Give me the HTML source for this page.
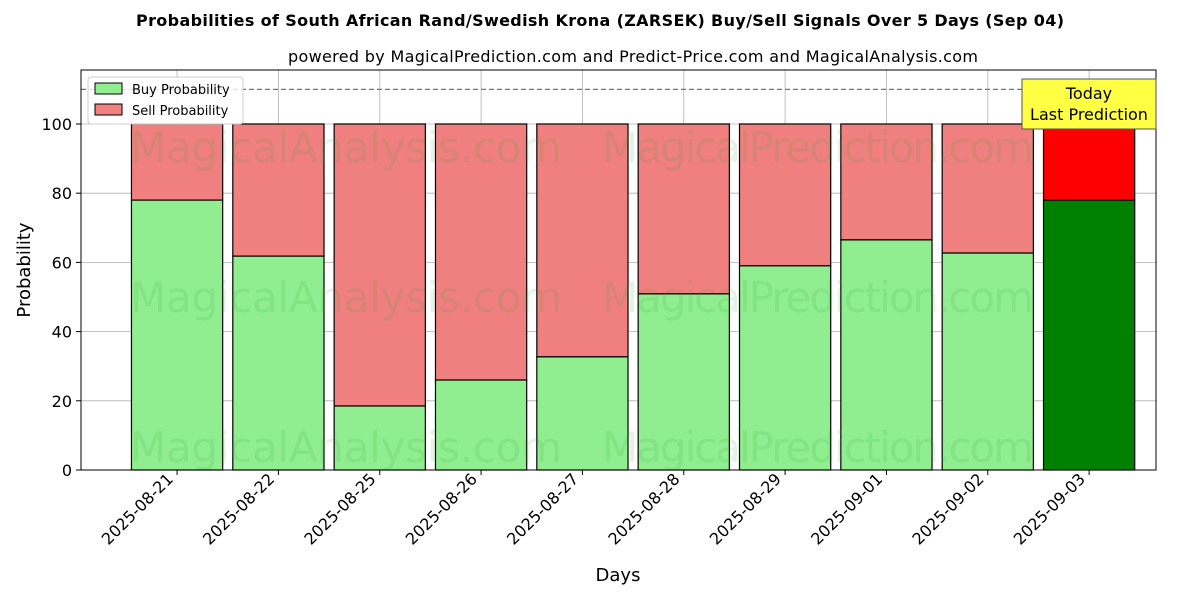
<!DOCTYPE html>
<html><head><meta charset="utf-8"><style>
body{margin:0;background:#fff;font-family:"Liberation Sans","DejaVu Sans",sans-serif;}
svg text{font-family:"DejaVu Sans","Liberation Sans",sans-serif;}
</style></head><body>
<svg id="chart" width="1200" height="600" xmlns="http://www.w3.org/2000/svg">
<text x="600" y="26" text-anchor="middle" font-size="16" font-weight="bold" textLength="928">Probabilities of South African Rand/Swedish Krona (ZARSEK) Buy/Sell Signals Over 5 Days (Sep 04)</text>
<text x="633" y="62" text-anchor="middle" font-size="16" textLength="690">powered by MagicalPrediction.com and Predict-Price.com and MagicalAnalysis.com</text>
<g id="grid"></g>
<g id="bars"></g>
<g id="watermarks" fill="#2ca02c" fill-opacity="0.13" font-size="42">
<text x="130" y="162" textLength="432">MagicalAnalysis.com</text><text x="602" y="162" textLength="432">MagicalPrediction.com</text>
<text x="130" y="312" textLength="432">MagicalAnalysis.com</text><text x="602" y="312" textLength="432">MagicalPrediction.com</text>
<text x="130" y="462" textLength="432">MagicalAnalysis.com</text><text x="602" y="462" textLength="432">MagicalPrediction.com</text>
</g>
<line x1="81" x2="1156" y1="89.4" y2="89.4" stroke="#777" stroke-dasharray="5,3" stroke-width="1.2"/>
<rect x="81" y="70" width="1075" height="400" fill="none" stroke="#000" stroke-width="1"/>
<g id="axes"></g>
<text x="30" y="270" transform="rotate(-90 30 270)" text-anchor="middle" font-size="18">Probability</text>
<text x="618" y="581" text-anchor="middle" font-size="18">Days</text>
<g>
<rect x="1022" y="79" width="134" height="50" fill="#ffff44" stroke="#555"/>
<text x="1089" y="99" text-anchor="middle" font-size="16">Today</text>
<text x="1089" y="120" text-anchor="middle" font-size="16">Last Prediction</text>
</g>
<g>
<rect x="88" y="77" width="155" height="47" fill="#fff" fill-opacity="0.8" stroke="#ccc" rx="3"/>
<rect x="95" y="83" width="27" height="11" fill="#90ee90" stroke="#000"/>
<text x="132" y="94" font-size="13">Buy Probability</text>
<rect x="95" y="104" width="27" height="11" fill="#f08080" stroke="#000"/>
<text x="132" y="115" font-size="13">Sell Probability</text>
</g>
</svg>
<script>
const categories=["2025-08-21","2025-08-22","2025-08-25","2025-08-26","2025-08-27","2025-08-28","2025-08-29","2025-09-01","2025-09-02","2025-09-03"];
const buyValues=[78.0,61.8,18.5,26.0,32.7,50.9,59.0,66.5,62.7,78.0];
const yTicks=[0,20,40,60,80,100];
const NS="http://www.w3.org/2000/svg";
const X0=81,X1=1156,Y0=470,Y1=70;
const xMin=-0.948,xMax=9.66,yMin=0,yMax=115.6;
function xs(i){return X0+(i-xMin)/(xMax-xMin)*(X1-X0);}
function ys(v){return Y0-(v-yMin)/(yMax-yMin)*(Y0-Y1);}
function mk(t,a,p){const e=document.createElementNS(NS,t);for(const k in a)e.setAttribute(k,a[k]);p.appendChild(e);return e;}
const grid=document.getElementById('grid'),bars=document.getElementById('bars'),axes=document.getElementById('axes');
const bw=(xs(1)-xs(0))*0.9;
yTicks.forEach(v=>{
 const g=mk('line',{x1:X0,x2:X1,y1:ys(v),y2:ys(v),stroke:'#b0b0b0','stroke-width':0.8},grid);
 
 
 const t=mk('line',{x1:X0-5,x2:X0,y1:ys(v),y2:ys(v),stroke:'#000'},axes);
 
 
 const l=mk('text',{x:X0-9,y:ys(v)+6,'text-anchor':'end','font-size':16},axes);
 l.textContent=v;
 
 
});
categories.forEach((c,i)=>{
 const x=xs(i);
 const g=mk('line',{x1:x,x2:x,y1:Y1,y2:Y0,stroke:'#b0b0b0','stroke-width':0.8},grid);
 
 
 const last=i===categories.length-1;
 const b=buyValues[i];
 const sr=mk('rect',{x:x-bw/2,y:ys(100),width:bw,height:ys(b)-ys(100),fill:last?'#ff0000':'#f08080',stroke:'#000','stroke-width':1.2},bars);
 
 
 const br=mk('rect',{x:x-bw/2,y:ys(b),width:bw,height:ys(0)-ys(b),fill:last?'#008000':'#90ee90',stroke:'#000','stroke-width':1.2},bars);
 
 
 const t=mk('line',{x1:x,x2:x,y1:Y0,y2:Y0+5,stroke:'#000'},axes);
 
 
 const lx=x-3,ly=Y0+10;
 const l=mk('text',{x:lx,y:ly,'text-anchor':'end','font-size':16,transform:`rotate(-45 ${lx} ${ly})`},axes);
 l.textContent=c;
 
 
});
</script>
</body></html>
